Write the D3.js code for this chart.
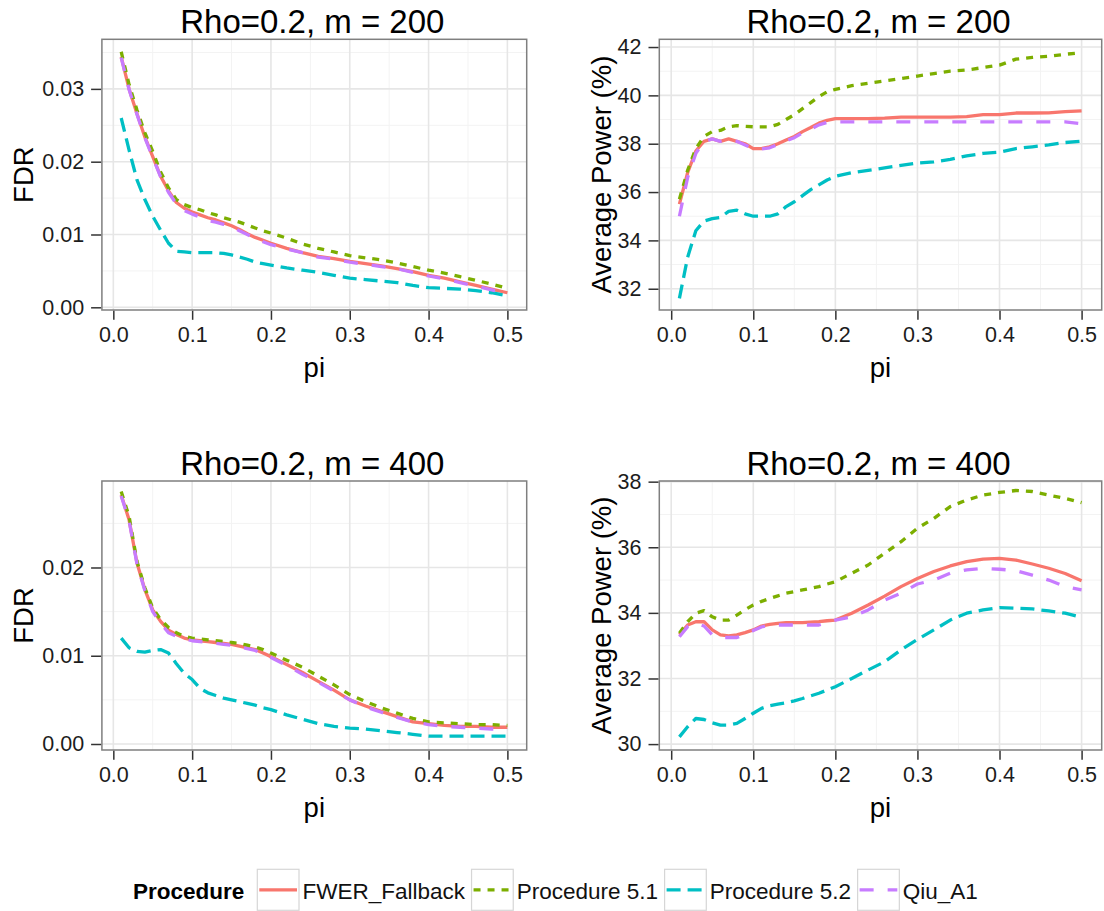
<!DOCTYPE html>
<html><head><meta charset="utf-8">
<script src="https://cdn.jsdelivr.net/npm/d3@7"></script>
<style>html,body{margin:0;padding:0;background:#fff;}svg{display:block;font-family:"Liberation Sans",Arial,sans-serif;}</style>
</head><body><svg id="chart" width="1104" height="911"></svg>
<script>
// ---------------- DATA ----------------
const procedures = ["FWER_Fallback", "Procedure 5.1", "Procedure 5.2", "Qiu_A1"];
const pi = [0.01,0.02,0.03,0.04,0.05,0.06,0.07,0.08,0.09,0.10,0.11,0.12,0.13,0.14,0.15,0.16,0.17,0.18,0.19,0.20,
            0.22,0.24,0.26,0.28,0.30,0.32,0.34,0.36,0.38,0.40,0.42,0.44,0.46,0.48,0.50];
const xTicks = [0.0,0.1,0.2,0.3,0.4,0.5];
const panelTitles = ["Rho=0.2, m = 200","Rho=0.2, m = 200","Rho=0.2, m = 400","Rho=0.2, m = 400"];

// FDR, m = 200
const fdr200_fwer = [.0344,.0300,.0266,.0234,.0207,.0180,.0160,.0144,.0136,.0131,.0127,.0123,.0120,.0116,.0112,.0107,.0101,.0096,.0092,.0088,
                     .0081,.0075,.0070,.0067,.0063,.0060,.0057,.0053,.0049,.0044,.0040,.0035,.0030,.0025,.0020];
const fdr200_p51  = [.0351,.0306,.0271,.0240,.0214,.0186,.0164,.0148,.0141,.0137,.0134,.0130,.0127,.0123,.0120,.0117,.0113,.0109,.0105,.0102,
                     .0095,.0087,.0081,.0076,.0071,.0068,.0065,.0061,.0056,.0051,.0047,.0042,.0037,.0032,.0026];
const fdr200_p52  = [.0260,.0216,.0175,.0148,.0125,.0106,.0088,.0077,.0076,.0075,.0075,.0075,.0075,.0074,.0072,.0069,.0066,.0062,.0060,.0058,
                     .0054,.0051,.0048,.0044,.0040,.0038,.0036,.0034,.0030,.0027,.0026,.0025,.0023,.0020,.0016];
const fdr200_qiu  = [.0343,.0299,.0265,.0233,.0206,.0179,.0158,.0142,.0133,.0128,.0124,.0119,.0117,.0114,.0111,.0105,.0100,.0095,.0090,.0086,
                     .0080,.0075,.0069,.0066,.0062,.0059,.0056,.0053,.0048,.0043,.0039,.0034,.0029,.0024,.0019];

// Average power, m = 200
const pow200_fwer = [35.5,36.8,37.7,38.1,38.2,38.1,38.2,38.1,38.0,37.8,37.8,37.87,38.0,38.15,38.3,38.5,38.67,38.85,38.97,39.04,
                     39.04,39.04,39.06,39.1,39.1,39.1,39.1,39.12,39.2,39.2,39.27,39.27,39.28,39.33,39.36];
const pow200_p51  = [35.7,36.9,37.8,38.3,38.5,38.55,38.7,38.75,38.72,38.7,38.7,38.7,38.8,39.0,39.2,39.45,39.7,39.95,40.15,40.25,
                     40.4,40.5,40.6,40.7,40.8,40.9,41.0,41.05,41.15,41.25,41.5,41.57,41.62,41.7,41.77];
const pow200_p52  = [31.6,33.3,34.4,34.8,34.9,34.95,35.2,35.25,35.1,35.0,35.0,35.0,35.1,35.4,35.6,35.85,36.1,36.3,36.5,36.65,
                     36.8,36.9,37.0,37.1,37.2,37.25,37.35,37.5,37.6,37.65,37.8,37.87,37.95,38.05,38.1];
const pow200_qiu  = [35.0,36.6,37.6,38.1,38.2,38.1,38.15,38.1,37.95,37.8,37.78,37.83,37.97,38.12,38.25,38.45,38.6,38.78,38.88,38.9,
                     38.9,38.9,38.9,38.9,38.9,38.9,38.9,38.9,38.9,38.9,38.9,38.9,38.9,38.9,38.83];

// FDR, m = 400
const fdr400_fwer = [.0282,.0254,.0205,.0175,.0152,.0139,.0129,.0124,.0120,.0118,.0117,.0116,.0115,.0114,.0113,.0111,.0109,.0107,.0103,.0099,
                     .0090,.0081,.0071,.0061,.0050,.0043,.0037,.0031,.0025,.0023,.0021,.0020,.0020,.0019,.0019];
const fdr400_p51  = [.0286,.0258,.0207,.0177,.0154,.0141,.0132,.0126,.0122,.0120,.0119,.0118,.0117,.0116,.0115,.0114,.0112,.0110,.0107,.0103,
                     .0095,.0087,.0077,.0067,.0056,.0048,.0041,.0035,.0029,.0025,.0024,.0023,.0022,.0022,.0021];
const fdr400_p52  = [.0120,.0109,.0105,.0104,.0106,.0107,.0103,.0091,.0080,.0073,.0063,.0058,.0055,.0052,.0050,.0048,.0046,.0044,.0041,.0039,
                     .0033,.0028,.0023,.0020,.0018,.0017,.0015,.0013,.0011,.0009,.0009,.0009,.0009,.0009,.0009];
const fdr400_qiu  = [.0281,.0253,.0204,.0174,.0150,.0137,.0126,.0122,.0119,.0117,.0116,.0115,.0114,.0113,.0112,.0110,.0108,.0106,.0102,.0098,
                     .0089,.0079,.0070,.0060,.0050,.0042,.0036,.0030,.0025,.0022,.0020,.0019,.0018,.0017,.0017];

// Average power, m = 400
const pow400_fwer = [33.33,33.63,33.73,33.73,33.48,33.33,33.3,33.33,33.4,33.48,33.6,33.65,33.68,33.7,33.7,33.7,33.72,33.73,33.76,33.78,
                     33.99,34.24,34.51,34.8,35.05,35.26,35.43,35.56,35.64,35.66,35.61,35.49,35.36,35.2,34.98];
const pow400_p51  = [33.38,33.73,33.99,34.07,33.88,33.78,33.78,33.93,34.1,34.24,34.35,34.44,34.52,34.6,34.65,34.7,34.75,34.8,34.88,34.95,
                     35.21,35.46,35.82,36.17,36.58,36.88,37.24,37.44,37.59,37.67,37.73,37.7,37.59,37.49,37.36];
const pow400_p52  = [30.22,30.53,30.78,30.75,30.65,30.58,30.58,30.63,30.78,30.94,31.09,31.17,31.22,31.26,31.32,31.39,31.47,31.55,31.65,31.75,
                     32.0,32.26,32.51,32.87,33.19,33.48,33.78,33.99,34.09,34.16,34.14,34.12,34.06,33.99,33.86];
const pow400_qiu  = [33.27,33.58,33.68,33.6,33.33,33.25,33.25,33.25,33.35,33.46,33.57,33.63,33.63,33.63,33.63,33.63,33.63,33.63,33.7,33.78,
                     33.88,34.09,34.39,34.6,34.88,35.0,35.21,35.31,35.36,35.33,35.29,35.15,35.0,34.8,34.7];

const fdrTicks200 = [0.00,0.01,0.02,0.03];
const fdrTicks400 = [0.00,0.01,0.02];
const powTicks200 = [32,34,36,38,40,42];
const powTicks400 = [30,32,34,36,38];

// ---------------- STYLE / LAYOUT ----------------
const colors = ["#F8766D","#7CAE00","#00BFC4","#C77CFF"];
const dashes = [null, "7,7", "14,7", "14,14"];
const lineW = 3.3;
const font = '"Liberation Sans", Arial, sans-serif';

const panels = [
  {title: panelTitles[0], ylab: "FDR", series: [fdr200_fwer,fdr200_p51,fdr200_p52,fdr200_qiu],
   x0: 101.9, x1: 526.7, y0: 39.3, y1: 310, ydom: [-0.00037, 0.03681], yticks: fdrTicks200, ystep: 0.01, yfmt: d3.format(".2f"), ylabX: 33},
  {title: panelTitles[1], ylab: "Average Power (%)", series: [pow200_fwer,pow200_p51,pow200_p52,pow200_qiu],
   x0: 659.3, x1: 1101.7, y0: 39.3, y1: 310, ydom: [31.12, 42.32], yticks: powTicks200, ystep: 2, yfmt: d3.format("d"), ylabX: 611},
  {title: panelTitles[2], ylab: "FDR", series: [fdr400_fwer,fdr400_p51,fdr400_p52,fdr400_qiu],
   x0: 101.9, x1: 526.7, y0: 481, y1: 750, ydom: [-0.00068, 0.0298], yticks: fdrTicks400, ystep: 0.01, yfmt: d3.format(".2f"), ylabX: 33},
  {title: panelTitles[3], ylab: "Average Power (%)", series: [pow400_fwer,pow400_p51,pow400_p52,pow400_qiu],
   x0: 659.3, x1: 1101.7, y0: 481, y1: 750, ydom: [29.82, 38.02], yticks: powTicks400, ystep: 2, yfmt: d3.format("d"), ylabX: 611}
];

const svg = d3.select("#chart");
svg.append("rect").attr("width",1104).attr("height",911).attr("fill","#fff");

panels.forEach(p => {
  const g = svg.append("g");
  const x = d3.scaleLinear().domain([-0.0145, 0.5245]).range([p.x0, p.x1]);
  const y = d3.scaleLinear().domain(p.ydom).range([p.y1, p.y0]);

  g.append("rect").attr("x",p.x0).attr("y",p.y0).attr("width",p.x1-p.x0).attr("height",p.y1-p.y0).attr("fill","#fff");

  // minor grid
  const xMinor = xTicks.slice(0,-1).map(v => v + 0.05);
  const yMinor = p.yticks.map(v => v + p.ystep/2).concat([p.yticks[0]-p.ystep/2])
                 .filter(v => v > p.ydom[0] && v < p.ydom[1]);
  g.selectAll(".xmin").data(xMinor).join("line")
    .attr("x1",d=>x(d)).attr("x2",d=>x(d)).attr("y1",p.y0).attr("y2",p.y1)
    .attr("stroke","#f3f3f3").attr("stroke-width",1);
  g.selectAll(".ymin").data(yMinor).join("line")
    .attr("y1",d=>y(d)).attr("y2",d=>y(d)).attr("x1",p.x0).attr("x2",p.x1)
    .attr("stroke","#f3f3f3").attr("stroke-width",1);
  // major grid
  g.selectAll(".xmaj").data(xTicks).join("line")
    .attr("x1",d=>x(d)).attr("x2",d=>x(d)).attr("y1",p.y0).attr("y2",p.y1)
    .attr("stroke","#e6e6e6").attr("stroke-width",1.6);
  g.selectAll(".ymaj").data(p.yticks).join("line")
    .attr("y1",d=>y(d)).attr("y2",d=>y(d)).attr("x1",p.x0).attr("x2",p.x1)
    .attr("stroke","#e6e6e6").attr("stroke-width",1.6);

  // lines
  const clipId = "clip" + Math.round(p.x0) + "_" + Math.round(p.y0);
  svg.append("clipPath").attr("id",clipId).append("rect")
    .attr("x",p.x0).attr("y",p.y0).attr("width",p.x1-p.x0).attr("height",p.y1-p.y0);
  const line = d3.line().x((d,i)=>x(pi[i])).y(d=>y(d));
  p.series.forEach((s,k) => {
    g.append("path").attr("d", line(s)).attr("fill","none")
      .attr("clip-path","url(#"+clipId+")")
      .attr("stroke",colors[k]).attr("stroke-width",lineW)
      .attr("stroke-dasharray",dashes[k]).attr("stroke-linejoin","round").attr("stroke-linecap","butt");
  });

  // border
  g.append("rect").attr("x",p.x0).attr("y",p.y0).attr("width",p.x1-p.x0).attr("height",p.y1-p.y0)
    .attr("fill","none").attr("stroke","#7f7f7f").attr("stroke-width",1.5);

  // x axis
  const xAxis = d3.axisBottom(x).tickValues(xTicks).tickFormat(d3.format(".1f")).tickSize(9).tickPadding(7);
  const xa = g.append("g").attr("transform","translate(0,"+(p.y1+0.8)+")").call(xAxis);
  xa.select(".domain").remove();
  xa.selectAll(".tick line").attr("stroke","#333").attr("stroke-width",1.5);
  xa.selectAll(".tick text").attr("font-size","21.5px").attr("font-family",font).attr("fill","#1c1c1c");

  // y axis
  const yAxis = d3.axisLeft(y).tickValues(p.yticks).tickFormat(p.yfmt).tickSize(10).tickPadding(7);
  const ya = g.append("g").attr("transform","translate("+(p.x0-0.8)+",0)").call(yAxis);
  ya.select(".domain").remove();
  ya.selectAll(".tick line").attr("stroke","#333").attr("stroke-width",1.5);
  ya.selectAll(".tick text").attr("font-size","21.5px").attr("font-family",font).attr("fill","#1c1c1c");

  // titles
  g.append("text").attr("x",(p.x0+p.x1)/2 - 2).attr("y",p.y0-6).attr("text-anchor","middle")
    .attr("font-size","33px").attr("font-family",font).attr("fill","#000").text(p.title);
  g.append("text").attr("x",(p.x0+p.x1)/2).attr("y",p.y1+67).attr("text-anchor","middle")
    .attr("font-size","27.5px").attr("font-family",font).attr("fill","#000").text("pi");
  g.append("text").attr("transform","translate("+p.ylabX+","+((p.y0+p.y1)/2)+") rotate(-90)")
    .attr("text-anchor","middle").attr("font-size","27.5px").attr("font-family",font).attr("fill","#000").text(p.ylab);
});

// ---------------- LEGEND ----------------
const leg = svg.append("g");
const legY = 899, boxTop = 869.3, boxH = 41, boxW = 41.7;
const legFont = "22.5px";
let cx = 133;
const lt = leg.append("text").attr("x",cx).attr("y",legY).attr("font-size",legFont).attr("font-weight","bold")
  .attr("font-family",font).attr("fill","#000").text("Procedure");
cx += lt.node().getComputedTextLength() + 13;
procedures.forEach((name,k) => {
  leg.append("rect").attr("x",cx).attr("y",boxTop).attr("width",boxW).attr("height",boxH)
    .attr("fill","#fff").attr("stroke","#d6d6d6").attr("stroke-width",1.2);
  leg.append("line").attr("x1",cx+2).attr("x2",cx+boxW-2).attr("y1",boxTop+boxH/2).attr("y2",boxTop+boxH/2)
    .attr("stroke",colors[k]).attr("stroke-width",lineW).attr("stroke-dasharray",dashes[k]);
  cx += boxW + 3.5;
  const t = leg.append("text").attr("x",cx).attr("y",legY).attr("font-size",legFont)
    .attr("font-family",font).attr("fill","#111").text(name);
  cx += t.node().getComputedTextLength() + 6.5;
});
</script></body></html>
